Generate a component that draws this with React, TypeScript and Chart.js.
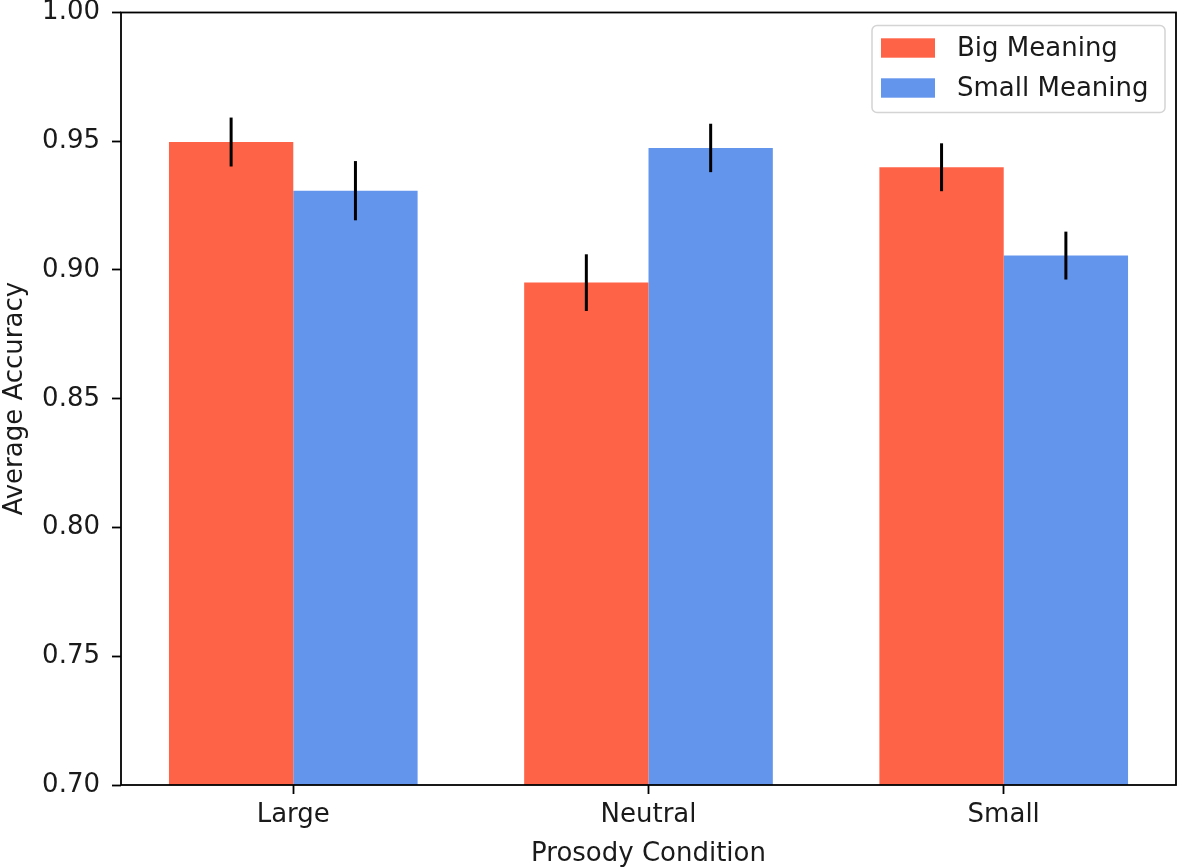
import React, { useEffect, useRef } from 'react';
import { Chart, registerables } from 'chart.js';

Chart.register(...registerables);

const categories = ['Large', 'Neutral', 'Small'];
const seriesLabels = ['Big Meaning', 'Small Meaning'];
const bigMeaning = [0.9497, 0.8951, 0.9399];
const bigMeaningErr = [0.0095, 0.011, 0.0093];
const smallMeaning = [0.9308, 0.9474, 0.9056];
const smallMeaningErr = [0.0115, 0.0094, 0.0093];
const yTicks = [0.7, 0.75, 0.8, 0.85, 0.9, 0.95, 1.0];
const seriesColors = ['#FF6347', '#6495ED'];
const errors = [bigMeaningErr, smallMeaningErr];

const FONT = '"DejaVu Sans", sans-serif';
const FS = 26;
const INK = '#1a1a1a';

const errorBarPlugin = {
  id: 'errorBars',
  afterDatasetsDraw(chart: any) {
    const ctx = chart.ctx;
    const y = chart.scales.y;
    ctx.save();
    ctx.strokeStyle = '#000';
    ctx.lineWidth = 3;
    errors.forEach((errs, di) => {
      const meta = chart.getDatasetMeta(di);
      meta.data.forEach((bar: any, i: number) => {
        const v = chart.data.datasets[di].data[i].y;
        ctx.beginPath();
        ctx.moveTo(bar.x, y.getPixelForValue(v - errs[i]));
        ctx.lineTo(bar.x, y.getPixelForValue(v + errs[i]));
        ctx.stroke();
      });
    });
    ctx.restore();
  },
};

const framePlugin = {
  id: 'frameAndLegend',
  afterDraw(chart: any) {
    const ctx = chart.ctx;
    const a = chart.chartArea;
    ctx.save();
    ctx.strokeStyle = '#000';
    ctx.lineWidth = 1.8;
    ctx.strokeRect(a.left, a.top, a.right - a.left, a.bottom - a.top);

    // legend
    const w = 293;
    const h = 87;
    const lx = a.right - 11 - w;
    const ly = a.top + 13;
    ctx.beginPath();
    (ctx as any).roundRect(lx, ly, w, h, 5);
    ctx.fillStyle = 'rgba(255,255,255,0.8)';
    ctx.fill();
    ctx.strokeStyle = '#d4d4d4';
    ctx.lineWidth = 1.5;
    ctx.stroke();
    ctx.font = `${FS}px ${FONT}`;
    ctx.textBaseline = 'middle';
    ctx.textAlign = 'left';
    seriesLabels.forEach((lab, i) => {
      const cy = ly + 22.5 + i * 40;
      ctx.fillStyle = seriesColors[i];
      ctx.fillRect(lx + 9, cy - 9.7, 54, 19.4);
      ctx.fillStyle = INK;
      ctx.fillText(lab, lx + 85, cy + 1.5);
    });
    ctx.restore();
  },
};

export default function App() {
  const ref = useRef<HTMLCanvasElement | null>(null);

  useEffect(() => {
    if (!ref.current) return;
    const chart = new Chart(ref.current, {
      type: 'bar',
      data: {
        datasets: [bigMeaning, smallMeaning].map((vals, di) => ({
          label: seriesLabels[di],
          data: vals.map((v, i) => ({ x: i, y: v })),
          backgroundColor: seriesColors[di],
          borderWidth: 0,
          categoryPercentage: 0.7,
          barPercentage: 1.0,
        })),
      },
      options: {
        animation: false,
        responsive: false,
        devicePixelRatio: 1,
        layout: { padding: { top: 12.5, right: 2, left: 0, bottom: 0 } },
        plugins: {
          legend: { display: false },
          tooltip: { enabled: false },
        },
        scales: {
          x: {
            type: 'linear',
            offset: false,
            min: -0.485,
            max: 2.485,
            afterBuildTicks: (scale: any) => {
              scale.ticks = categories.map((_, i) => ({ value: i }));
            },
            afterFit: (scale: any) => {
              scale.height = 82;
              scale.paddingLeft = 0;
              scale.paddingRight = 0;
            },
            ticks: {
              callback: (v: any) => categories[Math.round(Number(v))] ?? '',
              font: { family: FONT, size: FS },
              color: INK,
              padding: 6,
              maxRotation: 0,
              autoSkip: false,
            },
            grid: {
              offset: false,
              drawOnChartArea: false,
              drawTicks: true,
              tickLength: 9,
              tickWidth: 1.8,
              tickColor: '#000',
            },
            border: { display: false },
            title: {
              display: true,
              text: 'Prosody Condition',
              font: { family: FONT, size: FS, lineHeight: 1.0 },
              color: INK,
              padding: { top: 0, bottom: 0 },
            },
          },
          y: {
            type: 'linear',
            min: 0.7,
            max: 1.0,
            afterBuildTicks: (scale: any) => {
              scale.ticks = yTicks.map((v) => ({ value: v }));
            },
            afterFit: (scale: any) => {
              scale.width = 121;
              scale.paddingTop = 0;
              scale.paddingBottom = 0;
            },
            ticks: {
              callback: (v: any) => Number(v).toFixed(2),
              font: { family: FONT, size: FS },
              color: INK,
              padding: 12,
            },
            grid: {
              drawOnChartArea: false,
              drawTicks: true,
              tickLength: 9,
              tickWidth: 1.8,
              tickColor: '#000',
            },
            border: { display: false },
            title: {
              display: true,
              text: 'Average Accuracy',
              font: { family: FONT, size: FS },
              color: INK,
              padding: { top: 0, bottom: 2 },
            },
          },
        },
      },
      plugins: [errorBarPlugin, framePlugin],
    } as any);
    return () => chart.destroy();
  }, []);

  return (
    <div style={{ position: 'absolute', left: 0, top: 0, width: 1178, height: 867, background: '#fff' }}>
      <canvas ref={ref} width={1178} height={867} style={{ width: 1178, height: 867 }} />
    </div>
  );
}
